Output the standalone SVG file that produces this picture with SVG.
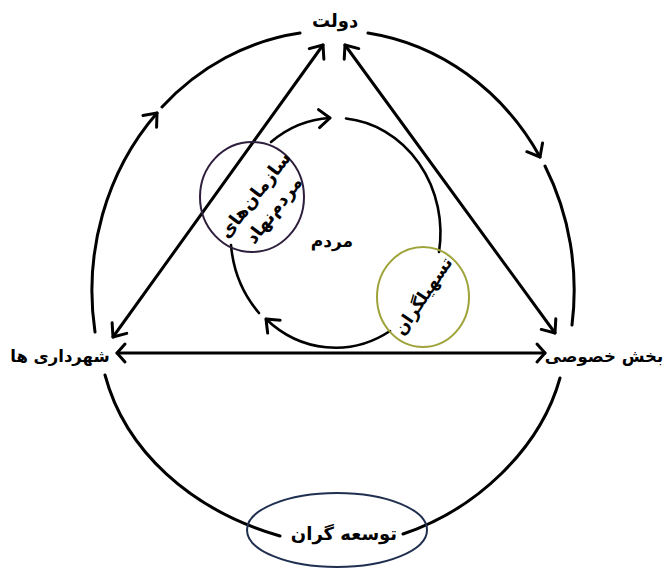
<svg xmlns="http://www.w3.org/2000/svg" width="668" height="570" viewBox="0 0 668 570">
<defs>
<marker id="ah" markerUnits="userSpaceOnUse" markerWidth="30" markerHeight="30" viewBox="0 0 30 30" refX="15" refY="15" orient="auto-start-reverse" overflow="visible">
<path d="M4,6 L15,15 L4,24" fill="none" stroke="#000" stroke-width="3" stroke-linecap="round" stroke-linejoin="round"/>
</marker>
<marker id="ah2" markerUnits="userSpaceOnUse" markerWidth="30" markerHeight="30" viewBox="0 0 30 30" refX="15" refY="15" orient="auto-start-reverse" overflow="visible">
<path d="M7,6 L15,15 L7,24" fill="none" stroke="#000" stroke-width="3" stroke-linecap="round" stroke-linejoin="round"/>
</marker>
</defs>
<style>
.ln{fill:none;stroke:#000;stroke-width:3;stroke-linecap:round}
.in{fill:none;stroke:#000;stroke-width:2.6;stroke-linecap:round}
.t{font-family:"DejaVu Sans",sans-serif;font-weight:bold;fill:#000;text-anchor:middle}
.arr{marker-end:url(#ah)}
.both{marker-start:url(#ah);marker-end:url(#ah)}
</style>
<rect width="668" height="570" fill="#fff"/>
<g id="connectors">
<!-- outer ring -->
<path class="ln arr" d="M95,332 A241,260 0 0 1 157,113"/>
<path class="ln" d="M162,107 A241,260 0 0 1 300,33"/>
<path class="ln arr" d="M368,33 A241,260 0 0 1 540,157"/>
<path class="ln" d="M545,166 A241,260 0 0 1 572,325"/>
<path class="ln" d="M560,378 C540,450 475,510 403,534"/>
<path class="ln" d="M105,375 C125,450 190,510 280,536"/>
<!-- inner ring -->
<path class="in arr" d="M271,142 A105,115 0 0 1 330,118"/>
<path class="in" d="M346,118.5 A105,115 0 0 1 439,252"/>
<path class="in arr" d="M390,331 A105,115 0 0 1 266,319"/>
<path class="in" d="M259,313 A105,115 0 0 1 231,245"/>
<!-- triangle -->
<path class="ln both" d="M113,337 L323,45"/>
<path class="ln both" d="M345,45 L555,333"/>
<path class="ln" style="marker-start:url(#ah2);marker-end:url(#ah2)" d="M117,353 L545,353"/>
</g>
<g id="dolat"><text class="t" x="335" y="27" font-size="18">دولت</text></g>
<g id="shahrdari"><text class="t" x="60" y="362" font-size="16.5">شهرداری ها</text></g>
<g id="bakhsh"><text class="t" x="604" y="362" font-size="16.5">بخش خصوصی</text></g>
<g id="mardom"><text class="t" x="332" y="247" font-size="17">مردم</text></g>
<g id="sazman">
<ellipse cx="252" cy="197" rx="52" ry="55" fill="none" stroke="#2e1f3d" stroke-width="2"/>
<text class="t" font-size="18" transform="translate(255,195) rotate(-52)" y="6">سازمان‌های</text>
<text class="t" font-size="18" transform="translate(274,210) rotate(-52)" y="6">مردم‌نهاد</text>
</g>
<g id="tashilgaran">
<ellipse cx="423" cy="297" rx="46" ry="50" fill="none" stroke="#9ea33a" stroke-width="2"/>
<text class="t" font-size="17" transform="translate(423,296) rotate(-56)" y="6">تسهیلگران</text>
</g>
<g id="tosegaran">
<ellipse cx="337" cy="530" rx="90" ry="37" fill="none" stroke="#1f2f4f" stroke-width="2"/>
<text class="t" x="344" y="540" font-size="18">توسعه گران</text>
</g>
</svg>
